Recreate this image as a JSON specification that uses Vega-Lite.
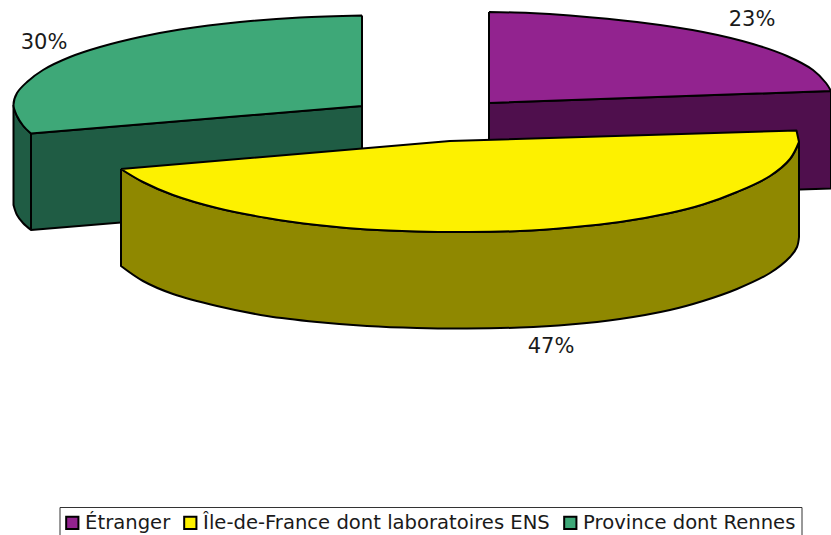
{"$schema":"https://vega.github.io/schema/vega-lite/v6.json","width":831,"height":535,"padding":0,"autosize":"none","background":"white","config":{"view":{"stroke":null},"font":"DejaVu Sans"},
"datasets":{"shapes":[
{"p":"Étranger côté","i":1,"x":489,"y":103},{"p":"Étranger côté","i":2,"x":489,"y":103},{"p":"Étranger côté","i":3,"x":831,"y":91},{"p":"Étranger côté","i":4,"x":831,"y":91},{"p":"Étranger côté","i":5,"x":831,"y":188.5},{"p":"Étranger côté","i":6,"x":831,"y":188.5},{"p":"Étranger côté","i":7,"x":489,"y":200},{"p":"Étranger côté","i":8,"x":489,"y":200},{"p":"Étranger côté","i":9,"x":489,"y":103},
{"p":"Étranger","i":1,"x":489,"y":12},{"p":"Étranger","i":2,"x":489,"y":12},{"p":"Étranger","i":3,"x":530,"y":13},{"p":"Étranger","i":4,"x":570,"y":15.5},{"p":"Étranger","i":5,"x":637,"y":22},{"p":"Étranger","i":6,"x":703,"y":32},{"p":"Étranger","i":7,"x":753,"y":44},{"p":"Étranger","i":8,"x":787,"y":56},{"p":"Étranger","i":9,"x":813,"y":70},{"p":"Étranger","i":10,"x":826,"y":83},{"p":"Étranger","i":11,"x":831,"y":91},{"p":"Étranger","i":12,"x":831,"y":91},{"p":"Étranger","i":13,"x":489,"y":103},{"p":"Étranger","i":14,"x":489,"y":103},{"p":"Étranger","i":15,"x":489,"y":12},
{"p":"Province côté","i":1,"x":13.5,"y":105},{"p":"Province côté","i":2,"x":13.5,"y":105},{"p":"Province côté","i":3,"x":17,"y":116},{"p":"Province côté","i":4,"x":23,"y":125.5},{"p":"Province côté","i":5,"x":31,"y":133.5},{"p":"Province côté","i":6,"x":31,"y":133.5},{"p":"Province côté","i":7,"x":362,"y":106},{"p":"Province côté","i":8,"x":362,"y":106},{"p":"Province côté","i":9,"x":362,"y":202.5},{"p":"Province côté","i":10,"x":362,"y":202.5},{"p":"Province côté","i":11,"x":31,"y":230},{"p":"Province côté","i":12,"x":31,"y":230},{"p":"Province côté","i":13,"x":23,"y":223},{"p":"Province côté","i":14,"x":17,"y":215},{"p":"Province côté","i":15,"x":13.5,"y":205},{"p":"Province côté","i":16,"x":13.5,"y":205},{"p":"Province côté","i":17,"x":13.5,"y":105},
{"p":"Province arête","i":1,"x":31,"y":133.5},{"p":"Province arête","i":2,"x":31,"y":133.5},{"p":"Province arête","i":3,"x":31,"y":230},{"p":"Province arête","i":4,"x":31,"y":230},
{"p":"Province","i":1,"x":362,"y":15.5},{"p":"Province","i":2,"x":362,"y":15.5},{"p":"Province","i":3,"x":300,"y":17.5},{"p":"Province","i":4,"x":240,"y":22},{"p":"Province","i":5,"x":180,"y":29.5},{"p":"Province","i":6,"x":140,"y":37},{"p":"Province","i":7,"x":100,"y":47},{"p":"Province","i":8,"x":70,"y":57},{"p":"Province","i":9,"x":43,"y":70},{"p":"Province","i":10,"x":27,"y":82},{"p":"Province","i":11,"x":17,"y":93},{"p":"Province","i":12,"x":13.5,"y":105},{"p":"Province","i":13,"x":17,"y":116},{"p":"Province","i":14,"x":23,"y":125.5},{"p":"Province","i":15,"x":31,"y":133.5},{"p":"Province","i":16,"x":31,"y":133.5},{"p":"Province","i":17,"x":362,"y":106},{"p":"Province","i":18,"x":362,"y":106},{"p":"Province","i":19,"x":362,"y":15.5},
{"p":"Île côté","i":1,"x":121,"y":169},{"p":"Île côté","i":2,"x":121,"y":169},{"p":"Île côté","i":3,"x":143,"y":182},{"p":"Île côté","i":4,"x":173,"y":195},{"p":"Île côté","i":5,"x":217,"y":208},{"p":"Île côté","i":6,"x":267,"y":218},{"p":"Île côté","i":7,"x":317,"y":225},{"p":"Île côté","i":8,"x":367,"y":229.5},{"p":"Île côté","i":9,"x":417,"y":231.5},{"p":"Île côté","i":10,"x":467,"y":232},{"p":"Île côté","i":11,"x":520,"y":231},{"p":"Île côté","i":12,"x":570,"y":227.5},{"p":"Île côté","i":13,"x":620,"y":222},{"p":"Île côté","i":14,"x":670,"y":213},{"p":"Île côté","i":15,"x":703,"y":204.5},{"p":"Île côté","i":16,"x":737,"y":192},{"p":"Île côté","i":17,"x":770,"y":176},{"p":"Île côté","i":18,"x":790,"y":159},{"p":"Île côté","i":19,"x":799,"y":142},{"p":"Île côté","i":20,"x":799,"y":142},{"p":"Île côté","i":21,"x":799,"y":237},{"p":"Île côté","i":22,"x":799,"y":237},{"p":"Île côté","i":23,"x":797,"y":247},{"p":"Île côté","i":24,"x":790,"y":257},{"p":"Île côté","i":25,"x":770,"y":273},{"p":"Île côté","i":26,"x":737,"y":289},{"p":"Île côté","i":27,"x":703,"y":301},{"p":"Île côté","i":28,"x":670,"y":310},{"p":"Île côté","i":29,"x":620,"y":319},{"p":"Île côté","i":30,"x":570,"y":324.5},{"p":"Île côté","i":31,"x":520,"y":327.5},{"p":"Île côté","i":32,"x":467,"y":328.5},{"p":"Île côté","i":33,"x":417,"y":328},{"p":"Île côté","i":34,"x":367,"y":326},{"p":"Île côté","i":35,"x":317,"y":322},{"p":"Île côté","i":36,"x":267,"y":316},{"p":"Île côté","i":37,"x":217,"y":306},{"p":"Île côté","i":38,"x":173,"y":294},{"p":"Île côté","i":39,"x":143,"y":281},{"p":"Île côté","i":40,"x":121,"y":266},{"p":"Île côté","i":41,"x":121,"y":266},{"p":"Île côté","i":42,"x":121,"y":169},
{"p":"Île","i":1,"x":121,"y":169},{"p":"Île","i":2,"x":121,"y":169},{"p":"Île","i":3,"x":450,"y":141},{"p":"Île","i":4,"x":450,"y":141},{"p":"Île","i":5,"x":796.5,"y":130.5},{"p":"Île","i":6,"x":796.5,"y":130.5},{"p":"Île","i":7,"x":799,"y":142},{"p":"Île","i":8,"x":799,"y":142},{"p":"Île","i":9,"x":790,"y":159},{"p":"Île","i":10,"x":770,"y":176},{"p":"Île","i":11,"x":737,"y":192},{"p":"Île","i":12,"x":703,"y":204.5},{"p":"Île","i":13,"x":670,"y":213},{"p":"Île","i":14,"x":620,"y":222},{"p":"Île","i":15,"x":570,"y":227.5},{"p":"Île","i":16,"x":520,"y":231},{"p":"Île","i":17,"x":467,"y":232},{"p":"Île","i":18,"x":417,"y":231.5},{"p":"Île","i":19,"x":367,"y":229.5},{"p":"Île","i":20,"x":317,"y":225},{"p":"Île","i":21,"x":267,"y":218},{"p":"Île","i":22,"x":217,"y":208},{"p":"Île","i":23,"x":173,"y":195},{"p":"Île","i":24,"x":143,"y":182},{"p":"Île","i":25,"x":121,"y":169}
],
"labels":[{"t":"30%","x":44,"y":43},{"t":"23%","x":752,"y":20},{"t":"47%","x":551,"y":347}],
"legend":[{"s":"Étranger","k":1},{"s":"Île-de-France dont laboratoires ENS","k":2},{"s":"Province dont Rennes","k":3}]},
"layer":[
{"data":{"name":"shapes"},"mark":{"type":"line","filled":true,"stroke":"black","strokeWidth":2,"strokeJoin":"round","interpolate":"catmull-rom"},
"encoding":{"x":{"field":"x","type":"quantitative","scale":{"domain":[0,831],"nice":false,"zero":false},"axis":null},"y":{"field":"y","type":"quantitative","scale":{"domain":[535,0],"nice":false,"zero":false},"axis":null},"order":{"field":"i","type":"quantitative"},
"color":{"field":"p","type":"nominal","legend":null,"scale":{"domain":["Étranger côté","Étranger","Province côté","Province arête","Province","Île côté","Île"],"range":["#4f0f4d","#92238f","#1f5c44","#1f5c44","#3ea878","#8f8800","#fdf100"]}},
"detail":{"field":"p"}}},
{"data":{"name":"labels"},"mark":{"type":"text","font":"DejaVu Sans","fontSize":21,"align":"center","baseline":"middle","color":"#1a1a1a"},
"encoding":{"x":{"field":"x","type":"quantitative","scale":{"domain":[0,831],"nice":false,"zero":false},"axis":null},"y":{"field":"y","type":"quantitative","scale":{"domain":[535,0],"nice":false,"zero":false},"axis":null},"text":{"field":"t"}}},
{"data":{"name":"legend"},"mark":{"type":"point","shape":"square","filled":true,"opacity":0},
"encoding":{"fill":{"field":"s","type":"nominal","sort":{"field":"k"},"scale":{"domain":["Étranger","Île-de-France dont laboratoires ENS","Province dont Rennes"],"range":["#92238f","#fdf100","#3ea878"]},
"legend":{"title":null,"orient":"none","legendX":59.5,"legendY":507,"direction":"horizontal","columns":3,"symbolType":"square","symbolSize":150,"symbolStrokeColor":"black","symbolStrokeWidth":2,"symbolOpacity":1,"symbolOffset":-3,"labelFont":"DejaVu Sans","labelFontSize":19.6,"labelColor":"#1a1a1a","labelLimit":500,"labelOffset":3,"columnPadding":9,"strokeColor":"#333","fillColor":"white","padding":6,"values":["Étranger","Île-de-France dont laboratoires ENS","Province dont Rennes"]}},
"x":{"datum":-100,"type":"quantitative","scale":{"domain":[0,831],"nice":false,"zero":false},"axis":null},"y":{"datum":-100,"type":"quantitative","scale":{"domain":[535,0],"nice":false,"zero":false},"axis":null}}}
]}
